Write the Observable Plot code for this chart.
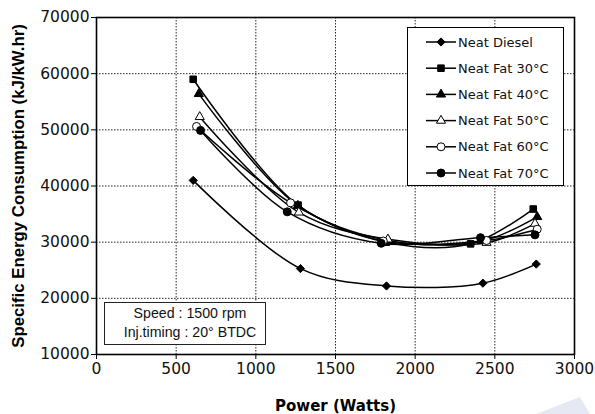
<!DOCTYPE html>
<html>
<head>
<meta charset="utf-8">
<script src="https://cdn.jsdelivr.net/npm/d3@7"></script>
<script src="https://cdn.jsdelivr.net/npm/@observablehq/plot@0.6"></script>
<style>
  body { margin: 0; background: #fff; }
  #wrap { position: relative; width: 595px; height: 414px; overflow: hidden; font-family: "DejaVu Sans", sans-serif; }
  #wrap > svg { position: absolute; left: 0; top: 0; }
  #note { position: absolute; left: 104px; top: 302px; width: 150px; height: 40px; border: 1px solid #222;
          background: #fff; font-family: "Liberation Sans", Arial, sans-serif; font-size: 14.2px; color: #111;
          text-align: center; line-height: 19px; padding-left: 10px; padding-top: 1px; box-sizing: content-box; }
</style>
</head>
<body>
<div id="wrap"></div>
<script>
// ---- data ----
const series = ["Neat Diesel", "Neat Fat 30°C", "Neat Fat 40°C", "Neat Fat 50°C", "Neat Fat 60°C", "Neat Fat 70°C"];
const dieselPower = [607, 1280, 1820, 2425, 2760];
const dieselSEC   = [41000, 25300, 22200, 22700, 26100];
const fat30Power  = [607, 1265, 1820, 2348, 2741];
const fat30SEC    = [59000, 36600, 30000, 29700, 35900];
const fat40Power  = [642, 1264, 1830, 2420, 2766];
const fat40SEC    = [56400, 36500, 30300, 30200, 34500];
const fat50Power  = [648, 1270, 1829, 2448, 2752];
const fat50SEC    = [52300, 35300, 30500, 29900, 33300];
const fat60Power  = [628, 1218, 1800, 2448, 2766];
const fat60SEC    = [50600, 37000, 30200, 30300, 32300];
const fat70Power  = [653, 1197, 1787, 2410, 2752];
const fat70SEC    = [49900, 35400, 29800, 30800, 31300];
const xTicks = [0, 500, 1000, 1500, 2000, 2500, 3000];
const yTicks = [10000, 20000, 30000, 40000, 50000, 60000, 70000];
const xLabel = "Power (Watts)";
const yLabel = "Specific Energy Consumption (kJ/kW.hr)";
const noteLines = ["Speed : 1500 rpm", "Inj.timing : 20° BTDC"];

// ---- styles ----
const symbols = ["diamond2", "square", "triangle", "triangle", "circle", "circle"];
const fills   = ["#000", "#000", "#000", "#fff", "#fff", "#000"];
const radii   = [3.7, 3.7, 3.4, 3.4, 4, 4];

const powers = [dieselPower, fat30Power, fat40Power, fat50Power, fat60Power, fat70Power];
const secs   = [dieselSEC, fat30SEC, fat40SEC, fat50SEC, fat60SEC, fat70SEC];
const rows = series.flatMap((s, i) => powers[i].map((p, j) => ({series: s, power: p, sec: secs[i][j]})));

const W = 595, H = 414;
const chart = Plot.plot({
  width: W, height: H,
  marginLeft: 96, marginRight: 21, marginTop: 17, marginBottom: 60,
  style: {fontFamily: "DejaVu Sans, sans-serif", fontSize: "15.5px", color: "#111", background: "transparent"},
  x: {domain: [0, 3000]},
  y: {domain: [10000, 70000]},
  marks: [
    Plot.gridX(xTicks.slice(1, -1), {stroke: "#000", strokeOpacity: 0.85, strokeDasharray: "1.5,1.5"}),
    Plot.gridY(yTicks.slice(1, -1), {stroke: "#000", strokeOpacity: 0.85, strokeDasharray: "1.5,1.5"}),
    Plot.line(rows, {x: "power", y: "sec", z: "series", curve: "catmull-rom", stroke: "#000", strokeWidth: 1.5}),
    ...series.map((s, i) => Plot.dot(rows.filter(d => d.series === s), {
      x: "power", y: "sec", symbol: symbols[i], fill: fills[i], stroke: "#000", strokeWidth: 1, r: radii[i]
    })),
    Plot.frame({stroke: "#000", strokeWidth: 1.6}),
    Plot.axisX({ticks: xTicks, tickSize: 5, tickPadding: 3, tickFormat: d => String(d), label: null, stroke: "#000"}),
    Plot.axisY({ticks: yTicks, tickSize: 5, tickPadding: 2, tickFormat: d => String(d), label: null, stroke: "#000"}),
    Plot.text([xLabel], {frameAnchor: "bottom", dy: 56, lineAnchor: "bottom", textAnchor: "middle", fontWeight: "bold",
      fontSize: 15, fontFamily: "DejaVu Sans, sans-serif", fill: "#000"}),
    Plot.text([yLabel], {frameAnchor: "left", dx: -84, rotate: -90, lineAnchor: "top", textAnchor: "middle", fontWeight: "bold",
      fontSize: 16.8, fontFamily: "Liberation Sans, Arial, sans-serif", fill: "#000"})
  ]
});
const wrap = document.getElementById("wrap");

// faint watermark wedge at bottom right
const bg = d3.select(wrap).append("svg").attr("width", W).attr("height", H);
bg.append("polygon").attr("points", "536,414 580,397 590,414").attr("fill", "#e6e9f4");

wrap.appendChild(chart);

// legend
const lg = d3.select(wrap).append("svg").attr("width", W).attr("height", H).style("pointer-events", "none");
lg.append("rect").attr("x", 407.5).attr("y", 27.5).attr("width", 156).attr("height", 158)
  .attr("fill", "#fff").attr("stroke", "#000").attr("stroke-width", 1);
const symMap = {diamond2: d3.symbolDiamond2, square: d3.symbolSquare, triangle: d3.symbolTriangle, circle: d3.symbolCircle};
series.forEach((s, i) => {
  const y = 42 + i * 26.2;
  const g = lg.append("g");
  g.append("line").attr("x1", 426).attr("x2", 456).attr("y1", y).attr("y2", y).attr("stroke", "#000").attr("stroke-width", 1.5);
  g.append("path").attr("d", d3.symbol(symMap[symbols[i]], Math.PI * radii[i] * radii[i])())
    .attr("transform", `translate(441,${y})`).attr("fill", fills[i]).attr("stroke", "#000").attr("stroke-width", 1);
  g.append("text").attr("x", 458).attr("y", y).attr("dy", "0.36em").attr("font-size", 13)
    .attr("font-family", "DejaVu Sans, sans-serif").attr("fill", "#111").text(s);
});

// annotation box
const note = document.createElement("div");
note.id = "note";
note.innerHTML = noteLines.map(t => `<div>${t}</div>`).join("");
wrap.appendChild(note);
</script>
</body>
</html>
